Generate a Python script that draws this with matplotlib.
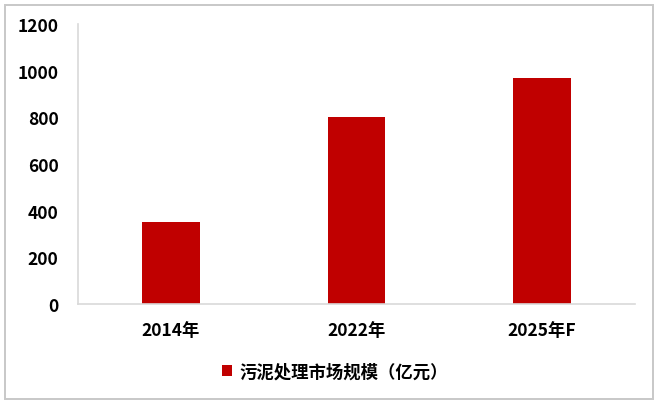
import matplotlib
matplotlib.use("Agg")
import matplotlib.pyplot as plt
from matplotlib.patches import Rectangle

plt.rcParams['font.family'] = ['Noto Sans CJK SC', 'DejaVu Sans']

categories = ["2014年", "2022年", "2025年F"]
values = [350, 800, 970]
series_name = "污泥处理市场规模（亿元）"
yticks = [0, 200, 400, 600, 800, 1000, 1200]

fig = plt.figure(figsize=(6.6, 4.06), dpi=100)
ax = fig.add_axes([78/660, 1-305/406, (635-78)/660, (305-25)/406])

x = list(range(len(categories)))
ax.bar(x, values, width=0.31, color="#c00000", label=series_name, zorder=2)
ax.set_xlim(-0.5, len(categories) - 0.5)
ax.set_ylim(0, 1200)
ax.set_yticks(yticks)
ax.set_yticklabels([str(v) for v in yticks])
ax.set_xticks(x)
ax.set_xticklabels(categories)
for lab in ax.get_xticklabels() + ax.get_yticklabels():
    lab.set_fontweight('bold')
    lab.set_fontsize(12.5)
    lab.set_color('#000000')
ax.tick_params(axis='both', length=0)
ax.tick_params(axis='y', pad=14)
ax.tick_params(axis='x', pad=12)
for s in ['top', 'right']:
    ax.spines[s].set_visible(False)
for s in ['left', 'bottom']:
    ax.spines[s].set_color('#d9d9d9')
    ax.spines[s].set_linewidth(1.2)

leg = fig.legend(loc='center', bbox_to_anchor=(335/660, 1-373/406), frameon=False,
                 prop={'weight': 'bold', 'size': 12.5}, handlelength=0.6, handleheight=0.6,
                 handletextpad=0.4)

fig.patches.append(Rectangle((5/660, 6/406), 648/660, 394/406, transform=fig.transFigure,
                             fill=False, edgecolor='#c8c8c8', linewidth=1.4))

fig.savefig("out.png", dpi=100)
